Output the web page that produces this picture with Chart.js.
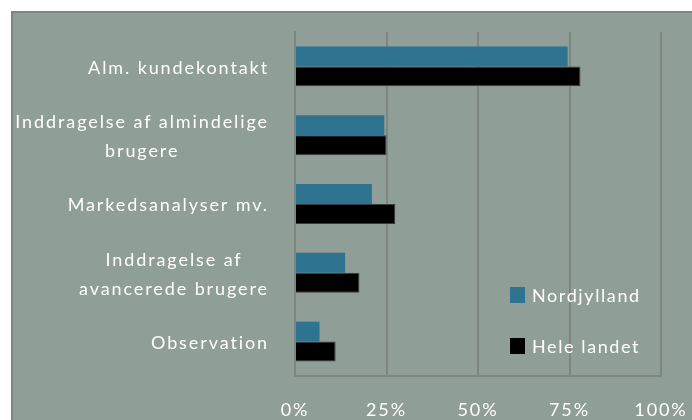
<!DOCTYPE html>
<html>
<head>
<meta charset="utf-8">
<script src="https://cdn.jsdelivr.net/npm/chart.js@4/dist/chart.umd.min.js"></script>
<style>
  html, body { margin: 0; padding: 0; background: #ffffff; }
  #wrap {
    position: absolute; left: 11px; top: 11px; width: 679px; height: 407px;
    background: #8f9e96; border-left: 2px solid #7c8581; border-top: 2px solid #7c8581;
  }
  #chart { position: absolute; left: 0; top: 0; }
  #legend { position: absolute; left: 497px; top: 269px; font-family: Lato, sans-serif; font-size: 18px; letter-spacing: 1.6px; color: #ffffff; }
  .item { display: flex; align-items: center; height: 26px; margin-bottom: 25px; }
  .box { width: 15px; height: 16px; margin-right: 7px; }
</style>
</head>
<body>
<div id="wrap">
  <canvas id="chart" width="679" height="407"></canvas>
  <div id="legend"></div>
</div>
<script>
const categories = [
    ['Alm. kundekontakt'],
    ['Inddragelse af almindelige', 'brugere'],
    ['Markedsanalyser mv.'],
    ['Inddragelse af', 'avancerede brugere'],
    ['Observation']
];
const seriesNames = ['Nordjylland', 'Hele landet'];
const nordjylland = [74.5, 24.4, 21, 13.7, 6.7];
const heleLandet = [78, 25, 27.4, 17.6, 11.1];
const xTicks = [0, 25, 50, 75, 100];

const colors = ['#2e7490', '#000000'];
const labelFont = '18px Lato, sans-serif';
const spacing = '1.9px';

// draws the category labels excel style: lines centred on each other, block right aligned
const yLabels = {
    id: 'yLabels',
    beforeUpdate(chart) { chart.ctx.letterSpacing = spacing; },
    beforeDraw(chart) { chart.ctx.letterSpacing = spacing; },
    afterDraw(chart) {
        const ctx = chart.ctx;
        const yScale = chart.scales.y;
        const right = chart.chartArea.left - 26;
        ctx.save();
        ctx.font = labelFont;
        ctx.letterSpacing = spacing;
        ctx.fillStyle = '#ffffff';
        ctx.textAlign = 'center';
        ctx.textBaseline = 'middle';
        categories.forEach((lines, i) => {
            const y = yScale.getPixelForValue(i) + 1.5;
            let maxW = 0;
            lines.forEach(l => { maxW = Math.max(maxW, ctx.measureText(l).width); });
            const cx = right - maxW / 2;
            const lh = 29;
            lines.forEach((l, j) => {
                ctx.fillText(l, cx, y - (lines.length - 1) * lh / 2 + j * lh);
            });
        });
        ctx.restore();
    }
};

const chart = new Chart(document.getElementById('chart'), {
    type: 'bar',
    data: {
        labels: categories.map(c => c.join(' ')),
        datasets: [
            { label: seriesNames[0], data: nordjylland, backgroundColor: colors[0], borderWidth: 0 },
            { label: seriesNames[1], data: heleLandet, backgroundColor: colors[1], borderColor: '#3c3c3c', borderWidth: 1 }
        ]
    },
    options: {
        indexAxis: 'y',
        responsive: false,
        animation: false,
        events: [],
        categoryPercentage: 0.58,
        barPercentage: 1,
        layout: { padding: { left: 0, right: 31, top: 19, bottom: 0 } },
        plugins: { legend: { display: false }, tooltip: { enabled: false } },
        scales: {
            x: {
                min: 0, max: 100,
                afterBuildTicks: s => { s.ticks = xTicks.map(v => ({ value: v })); },
                afterFit: s => { s.height = 44; },
                grid: { color: '#7f8582', lineWidth: 2, drawTicks: true, tickLength: 23, tickColor: 'rgba(0,0,0,0)' },
                border: { color: '#7f8582', width: 2 },
                ticks: {
                    padding: 0,
                    color: '#ffffff',
                    font: { family: 'Lato, sans-serif', size: 18 },
                    callback: v => v + '%'
                }
            },
            y: {
                afterFit: s => { s.width = 282; },
                grid: { display: false },
                border: { color: '#7f8582', width: 2 },
                ticks: { display: false }
            }
        }
    },
    plugins: [yLabels]
});

const legend = document.getElementById('legend');
chart.data.datasets.forEach(ds => {
    const row = document.createElement('div');
    row.className = 'item';
    const box = document.createElement('span');
    box.className = 'box';
    box.style.background = ds.backgroundColor;
    const txt = document.createElement('span');
    txt.textContent = ds.label;
    row.appendChild(box);
    row.appendChild(txt);
    legend.appendChild(row);
});
</script>
</body>
</html>
